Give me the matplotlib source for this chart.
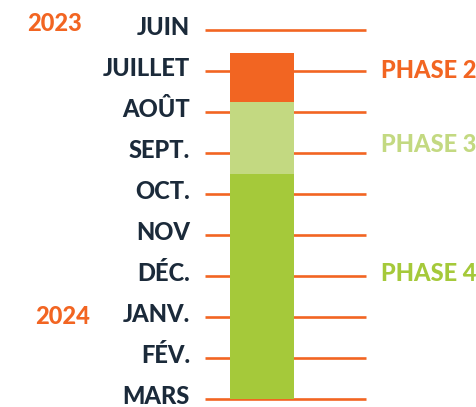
import matplotlib
matplotlib.use("Agg")
from matplotlib import pyplot as plt

# donnees
mois = ["JUIN", "JUILLET", "AOÛT", "SEPT.", "OCT.", "NOV", "DÉC.", "JANV.", "FÉV.", "MARS"]
phases = ["PHASE 2", "PHASE 3", "PHASE 4"]
debut = [0.57, 1.75, 3.52]
fin = [1.75, 3.52, 9.0]
pos_label = [1.0, 2.8, 5.95]
annees = ["2023", "2024"]
pos_annee = [-0.15, 7.0]

orange = "#F26522"
couleurs = [orange, "#C3D981", "#A5C93A"]
marine = "#1B2A3A"

plt.rcParams['font.family'] = ['Lato', 'DejaVu Sans']

fig = plt.figure(figsize=(4.77, 4.07), dpi=100)
ax = fig.add_axes([0, 0, 1, 1])
ax.set_xlim(0, 477)
ax.set_ylim((407 - 30) / 41, -30 / 41)
ax.axis("off")

# lignes des mois
ax.hlines(range(len(mois)), 205, 366, color=orange, lw=1.9, zorder=1)

# barres des phases
for d, f, c in zip(debut, fin, couleurs):
    ax.bar(262, f - d, bottom=d, width=64, color=c, zorder=2)

taille = 17
for i, m in enumerate(mois):
    ax.text(190, i - 0.06, m, ha="right", va="center", fontsize=taille,
            fontweight="black", color=marine)

for p, y, c in zip(phases, pos_label, couleurs):
    ax.text(381, y, p, ha="left", va="center", fontsize=taille,
            fontweight="black", color=c)

ax.text(27, pos_annee[0], annees[0], ha="left", va="center", fontsize=taille,
        fontweight="black", color=orange)
ax.text(35, pos_annee[1], annees[1], ha="left", va="center", fontsize=taille,
        fontweight="black", color=orange)

fig.savefig("out.png", dpi=100)
